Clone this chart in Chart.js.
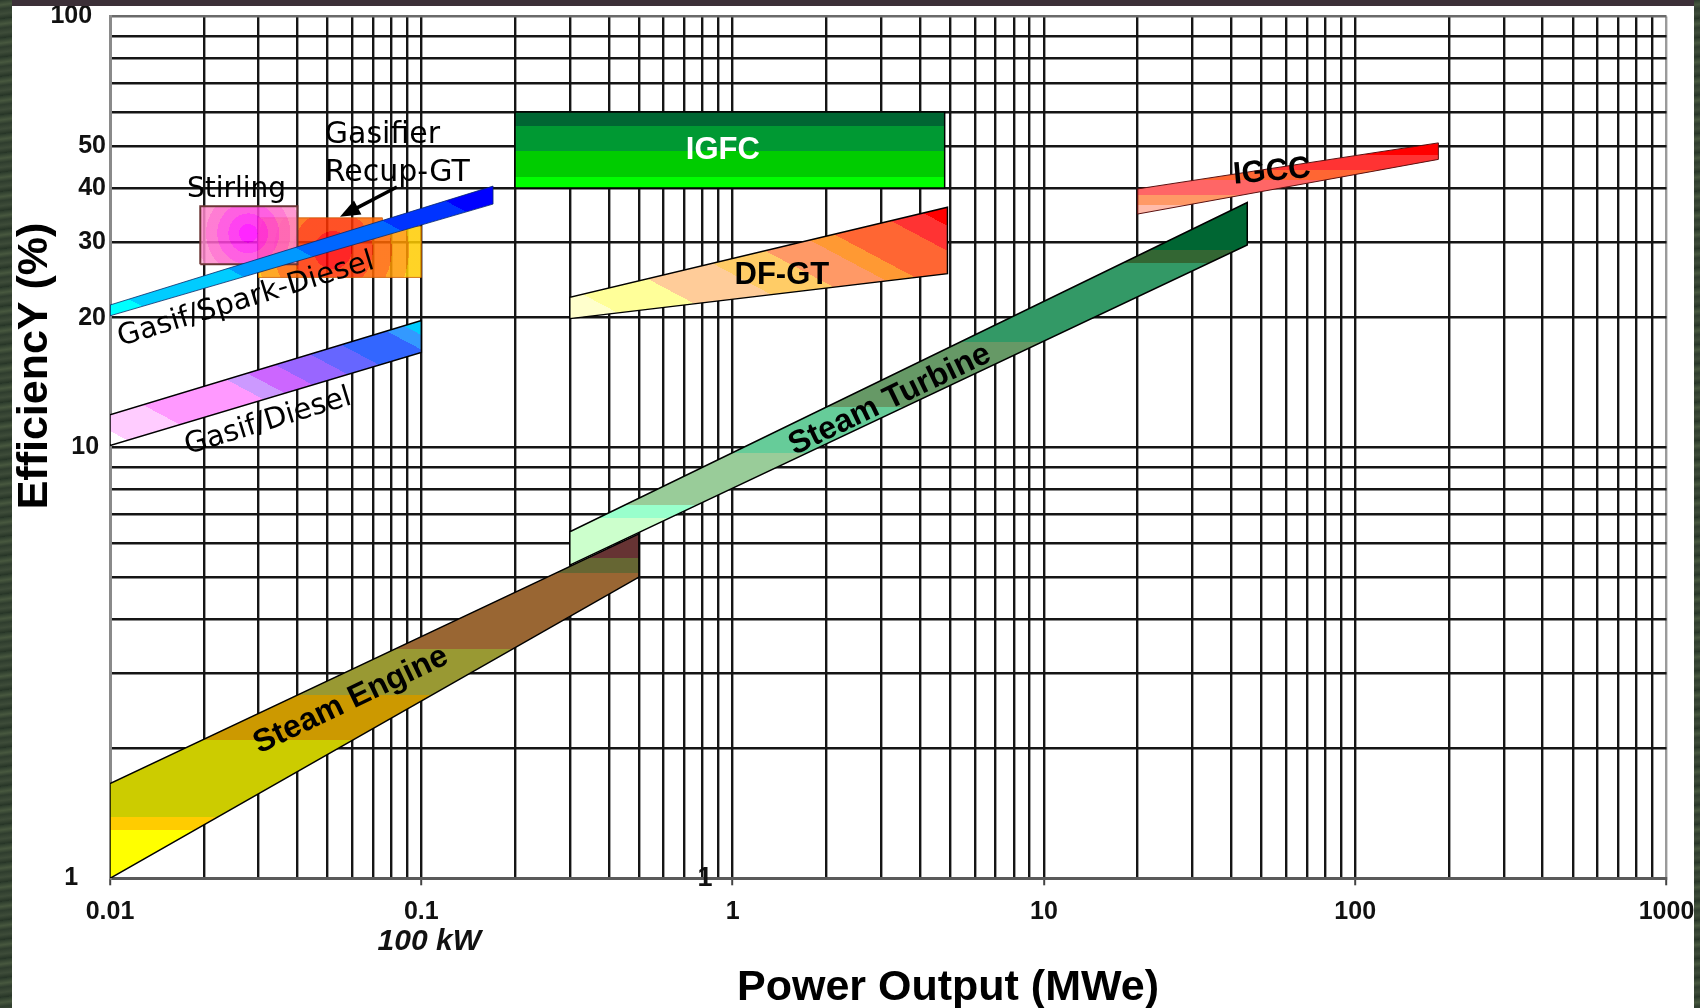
<!DOCTYPE html>
<html>
<head>
<meta charset="utf-8">
<title>Efficiency vs Power Output</title>
<script src="https://cdn.jsdelivr.net/npm/chart.js@4.4.1/dist/chart.umd.min.js"></script>
<style>
  html, body { margin: 0; padding: 0; background: #fff; }
  #holder { position: relative; width: 1700px; height: 1008px; overflow: hidden; background: #fff; }
  #myChart { position: absolute; left: 0; top: 0; }
  .edge { position: absolute; pointer-events: none; }
  #edgeTop { left: 0; top: 0; width: 1700px; height: 6px; background: #3c3038; }
  #edgeLeft, #edgeRight {
    top: 0; height: 1008px;
    background: repeating-linear-gradient(172deg, #2b3a2b 0px, #48583f 5px, #2f3d2e 9px, #3e4c39 14px, #263426 19px);
  }
  #edgeLeft { left: 0; width: 12px; }
  #edgeRight { left: 1694px; width: 6px; }
</style>
</head>
<body>
<div id="holder">
  <canvas id="myChart" width="1700" height="1008"></canvas>
  <div class="edge" id="edgeTop"></div>
  <div class="edge" id="edgeLeft"></div>
  <div class="edge" id="edgeRight"></div>
</div>
<script>
// axis ticks
const xMajor = [0.01, 0.1, 1, 10, 100, 1000];
const xTickLabels = ['0.01', '0.1', '1', '10', '100', '1000'];
const yTickValues = [1, 10, 20, 30, 40, 50, 100];
const yTickLabels = ['1    ', '10 ', '20', '30', '40', '50', '100  '];

// technology regions (MWe, %)
const recupX = [0.03, 0.1, 0.1, 0.075, 0.075, 0.03];
const recupY = [24.8, 24.8, 32.6, 32.6, 34.1, 34.1];
const stirlingX = [0.0195, 0.04, 0.04, 0.0195];
const stirlingY = [26.6, 26.6, 36.3, 36.3];
const sparkX = [0.01, 0.17, 0.17, 0.01];
const sparkY = [20.2, 36.7, 40.4, 21.4];
const dieselX = [0.01, 0.1, 0.1, 0.01];
const dieselY = [10.1, 16.6, 19.7, 11.9];
const igfcX = [0.2, 4.8, 4.8, 0.2];
const igfcY = [40, 40, 60, 60];
const dfgtX = [0.3, 4.9, 4.9, 0.3];
const dfgtY = [19.9, 25.3, 36.1, 22.3];
const igccX = [20, 185, 185, 20];
const igccY = [34.8, 46.6, 50.9, 39.8];
const engineX = [0.01, 0.5, 0.5, 0.01];
const engineY = [1.0, 5.0, 6.3, 1.66];
const turbineX = [0.3, 45, 45, 0.3];
const turbineY = [5.33, 29.5, 37, 6.37];

// labels
const labelText = ['Stirling', 'Gasifier', 'Recup-GT', 'IGFC', 'DF-GT', 'IGCC',
                   'Steam Turbine', 'Steam Engine', 'Gasif/Spark-Diesel', 'Gasif/Diesel'];
const labelX = [0.0255, 0.049, 0.049, 0.93, 1.44, 54, 3.2, 0.0594, 0.02735, 0.0322];
const labelY = [38.1, 50.8, 41.5, 49, 25, 43.6, 12.9, 2.59, 22.0, 11.46];
const arrowFrom = [0.0835, 40.2];
const arrowTo = [0.0548, 34.3];
const strayOne = [0.815, 1];

const xTitle = 'Power Output (MWe)';
const yTitle = 'EfficiencY (%)';
const xNote = '100 kW';

// ---- styles ----
const regular = '"DejaVu Sans", sans-serif';
const bold = '"Liberation Sans", Arial, sans-serif';
const labelStyle = [
    { font: '28px ' + regular, color: '#000', angle: 0, align: 'center', base: 'alphabetic' },
    { font: '30px ' + regular, color: '#000', angle: 0, align: 'left', base: 'alphabetic' },
    { font: '30px ' + regular, color: '#000', angle: 0, align: 'left', base: 'alphabetic' },
    { font: 'bold 31px ' + bold, color: '#fff', angle: 0, align: 'center', base: 'middle' },
    { font: 'bold 31px ' + bold, color: '#000', angle: 0, align: 'center', base: 'middle' },
    { font: 'bold 31px ' + bold, color: '#000', angle: -5, align: 'center', base: 'middle' },
    { font: 'bold 32px ' + bold, color: '#000', angle: -25.6, align: 'center', base: 'middle' },
    { font: 'bold 32px ' + bold, color: '#000', angle: -25.5, align: 'center', base: 'middle' },
    { font: '29px ' + regular, color: '#000', angle: -17, align: 'center', base: 'middle' },
    { font: '29px ' + regular, color: '#000', angle: -17, align: 'center', base: 'middle' }
];

const recupColors = ['rgba(255,0,0,0.85)', 'rgba(255,51,0,0.85)', 'rgba(255,102,0,0.85)', 'rgba(255,153,0,0.85)', 'rgba(255,204,0,0.85)'];
const recupEdges = [0, 0.2, 0.42, 0.62, 0.8, 1];
const stirlingColors = ['rgba(255,0,255,0.85)', 'rgba(255,34,238,0.85)', 'rgba(255,68,221,0.85)', 'rgba(255,102,204,0.85)', 'rgba(255,136,204,0.85)', 'rgba(255,170,212,0.85)'];
const stirlingEdges = [0, 0.15, 0.32, 0.5, 0.68, 0.85, 1];
const sparkColors = ['#00ffff', '#00ccff', '#0099ff', '#0066ff', '#0033ff', '#0000ff'];
const sparkEdges = [0, 0.08, 0.33, 0.5, 0.72, 0.88, 1];
const dieselColors = ['#ffffff', '#ffccff', '#ff99ff', '#cc99ff', '#cc66ff', '#9966ff', '#6666ff', '#3366ff', '#3399ff', '#00ccff'];
const dieselEdges = [0, 0.05, 0.2, 0.44, 0.5, 0.58, 0.68, 0.77, 0.9, 0.95, 1];
const dfgtColors = ['#ffffcc', '#ffff99', '#ffcc99', '#ffcc66', '#ff9966', '#ff9933', '#ff6633', '#ff3333', '#ff0000'];
const dfgtEdges = [0, 0.1, 0.26, 0.42, 0.55, 0.66, 0.72, 0.86, 0.94, 1];
const igfcColors = ['#00ff00', '#00cc00', '#009933', '#006633'];
const igfcBands = [40, 42.5, 48.8, 55.8, 60];
const igccColors = ['#ffbbaa', '#ff9966', '#ff6666', '#ff6633', '#ff3333', '#ff0000'];
const igccBands = [34.8, 36.5, 38.5, 41.7, 44, 47.7, 51];
const engineColors = ['#ffff00', '#ffcc00', '#cccc00', '#cc9900', '#999933', '#996633', '#666633', '#663333'];
const engineBands = [1, 1.295, 1.39, 2.09, 2.66, 3.4, 5.11, 5.54, 6.4];
const turbineColors = ['#ccffcc', '#99ffcc', '#99cc99', '#66cc99', '#669966', '#339966', '#336633', '#006633'];
const turbineBands = [5.3, 6.86, 7.35, 9.71, 12.4, 17.6, 26.8, 28.7, 37];

function outline(xs, ys) {
    const pts = xs.map((x, i) => ({ x: x, y: ys[i] }));
    pts.push(pts[0]);
    return pts;
}

function addBands(g, colors, edges) {
    colors.forEach((c, i) => {
        g.addColorStop(edges[i], c);
        g.addColorStop(edges[i + 1], c);
    });
    return g;
}

// stripes at an angle across the polygon
function stripeFill(chart, xs, ys, angle, colors, edges) {
    const { ctx, scales } = chart;
    const a = angle * Math.PI / 180;
    const dx = Math.cos(a), dy = -Math.sin(a);
    const proj = xs.map((v, i) => scales.x.getPixelForValue(v) * dx + scales.y.getPixelForValue(ys[i]) * dy);
    const lo = Math.min(...proj), hi = Math.max(...proj);
    return addBands(ctx.createLinearGradient(dx * lo, dy * lo, dx * hi, dy * hi), colors, edges);
}

// horizontal bands given in y values
function bandFill(chart, bounds, colors) {
    const y = chart.scales.y;
    const p = bounds.map(v => y.getPixelForValue(v));
    const span = p[p.length - 1] - p[0];
    const edges = p.map(v => (v - p[0]) / span);
    return addBands(chart.ctx.createLinearGradient(0, p[0], 0, p[p.length - 1]), colors, edges);
}

function ringFill(chart, cx, cy, r, colors, edges) {
    const px = chart.scales.x.getPixelForValue(cx);
    const py = chart.scales.y.getPixelForValue(cy);
    return addBands(chart.ctx.createRadialGradient(px, py, 0, px, py, r), colors, edges);
}

const regions = [
    { xs: recupX, ys: recupY, border: 'rgba(200,90,0,0.8)', width: 1,
      fill: ch => ringFill(ch, 0.052, 28.7, 95, recupColors, recupEdges) },
    { xs: stirlingX, ys: stirlingY, border: '#6b3535', width: 2,
      fill: ch => ringFill(ch, 0.0278, 31.4, 62, stirlingColors, stirlingEdges) },
    { xs: sparkX, ys: sparkY, border: '#0a2a6a', width: 0.8,
      fill: ch => stripeFill(ch, sparkX, sparkY, 62, sparkColors, sparkEdges) },
    { xs: dieselX, ys: dieselY, border: '#000', width: 1.5,
      fill: ch => stripeFill(ch, dieselX, dieselY, 62, dieselColors, dieselEdges) },
    { xs: igfcX, ys: igfcY, border: '#000', width: 1.5,
      fill: ch => bandFill(ch, igfcBands, igfcColors) },
    { xs: dfgtX, ys: dfgtY, border: '#000', width: 1.5,
      fill: ch => stripeFill(ch, dfgtX, dfgtY, 62, dfgtColors, dfgtEdges) },
    { xs: igccX, ys: igccY, border: '#5a1010', width: 1,
      fill: ch => bandFill(ch, igccBands, igccColors) },
    { xs: engineX, ys: engineY, border: '#000', width: 1.5,
      fill: ch => bandFill(ch, engineBands, engineColors) },
    { xs: turbineX, ys: turbineY, border: '#000', width: 1.5,
      fill: ch => bandFill(ch, turbineBands, turbineColors) }
];

const datasets = regions.map((r, i) => ({
    data: outline(r.xs, r.ys),
    order: regions.length - i,
    fill: 'shape',
    backgroundColor: c => c.chart.chartArea ? r.fill(c.chart) : '#ccc',
    borderColor: r.border,
    borderWidth: r.width,
    pointRadius: 0,
    tension: 0
}));

// grid at 1..9 of every decade
function decadeGrid(first, last) {
    const vals = [];
    for (let d = first; d < last; d *= 10) {
        for (let k = 1; k <= 9; k++) vals.push(d * k);
    }
    vals.push(last);
    return vals;
}
const xGrid = decadeGrid(0.01, 1000);
const yGrid = decadeGrid(1, 100);

const annotations = {
    id: 'annotations',
    afterDraw(chart) {
        const { ctx, scales: { x, y }, chartArea } = chart;
        ctx.save();

        // arrow to the recuperated GT box
        const ax0 = x.getPixelForValue(arrowFrom[0]), ay0 = y.getPixelForValue(arrowFrom[1]);
        const ax1 = x.getPixelForValue(arrowTo[0]), ay1 = y.getPixelForValue(arrowTo[1]);
        const ang = Math.atan2(ay1 - ay0, ax1 - ax0);
        const head = 20;
        ctx.strokeStyle = '#000';
        ctx.fillStyle = '#000';
        ctx.lineWidth = 3.5;
        ctx.beginPath();
        ctx.moveTo(ax0, ay0);
        ctx.lineTo(ax1 - Math.cos(ang) * head * 0.8, ay1 - Math.sin(ang) * head * 0.8);
        ctx.stroke();
        ctx.beginPath();
        ctx.moveTo(ax1, ay1);
        ctx.lineTo(ax1 - head * Math.cos(ang) + 8 * Math.sin(ang), ay1 - head * Math.sin(ang) - 8 * Math.cos(ang));
        ctx.lineTo(ax1 - head * Math.cos(ang) - 8 * Math.sin(ang), ay1 - head * Math.sin(ang) + 8 * Math.cos(ang));
        ctx.closePath();
        ctx.fill();

        labelText.forEach((t, i) => {
            const s = labelStyle[i];
            ctx.save();
            ctx.translate(x.getPixelForValue(labelX[i]), y.getPixelForValue(labelY[i]));
            ctx.rotate(s.angle * Math.PI / 180);
            ctx.font = s.font;
            ctx.fillStyle = s.color;
            ctx.textAlign = s.align;
            ctx.textBaseline = s.base;
            ctx.fillText(t, 0, 0);
            ctx.restore();
        });

        // stray "1" sitting on the axis
        ctx.font = 'bold 27px ' + bold;
        ctx.fillStyle = '#111';
        ctx.textAlign = 'center';
        ctx.textBaseline = 'middle';
        ctx.fillText('1', x.getPixelForValue(strayOne[0]), y.getPixelForValue(strayOne[1]));

        ctx.font = 'italic bold 30px ' + bold;
        ctx.textBaseline = 'alphabetic';
        ctx.fillText(xNote, x.getPixelForValue(0.1) + 8, chartArea.bottom + 72);

        ctx.font = 'bold 43px ' + bold;
        ctx.fillStyle = '#000';
        ctx.fillText(xTitle, 948, 1000);

        ctx.translate(46.5, 366);
        ctx.rotate(-Math.PI / 2);
        ctx.fillText(yTitle, 0, 0);
        ctx.restore();
    }
};

const ctx = document.getElementById('myChart').getContext('2d');
const myChart = new Chart(ctx, {
    type: 'line',
    data: { datasets: datasets },
    options: {
        responsive: false,
        animation: false,
        events: [],
        layout: { padding: { left: 0, top: 16.5, right: 33.5, bottom: 0 } },
        plugins: { legend: { display: false }, tooltip: { enabled: false } },
        scales: {
            x: {
                type: 'logarithmic',
                min: 0.01,
                max: 1000,
                afterBuildTicks: scale => { scale.ticks = xGrid.map(v => ({ value: v })); },
                afterFit: scale => {
                    scale.height = 129.7;
                    scale.paddingLeft = 0;
                    scale.paddingRight = 0;
                },
                ticks: {
                    autoSkip: false,
                    maxRotation: 0,
                    padding: 12,
                    color: '#111',
                    font: { family: 'Liberation Sans', weight: 'bold', size: 25 },
                    callback: v => { const i = xMajor.indexOf(v); return i < 0 ? '' : xTickLabels[i]; }
                },
                grid: {
                    color: c => (c.tick && c.tick.value === 1000) ? '#9a9a9a' : '#151515',
                    lineWidth: 2.4,
                    drawTicks: true,
                    tickLength: 7,
                    tickWidth: 2,
                    tickColor: c => (c.tick && xMajor.indexOf(c.tick.value) >= 0) ? '#444' : 'rgba(0,0,0,0)'
                },
                border: { display: true, color: '#5a5a5a', width: 3 }
            },
            y: {
                type: 'logarithmic',
                min: 1,
                max: 100,
                afterBuildTicks: scale => { scale.ticks = yGrid.map(v => ({ value: v })); },
                afterFit: scale => {
                    scale.width = 110;
                    scale.paddingTop = 0;
                    scale.paddingBottom = 0;
                },
                ticks: {
                    autoSkip: false,
                    padding: 4,
                    color: '#111',
                    font: { family: 'Liberation Sans', weight: 'bold', size: 25 },
                    callback: v => { const i = yTickValues.indexOf(v); return i < 0 ? '' : yTickLabels[i]; }
                },
                grid: {
                    color: c => (c.tick && c.tick.value === 100) ? '#6a6a6a' : '#151515',
                    lineWidth: 2.4,
                    drawTicks: false
                },
                border: { display: true, color: '#8a8a8a', width: 3 }
            }
        }
    },
    plugins: [annotations]
});
</script>
</body>
</html>
